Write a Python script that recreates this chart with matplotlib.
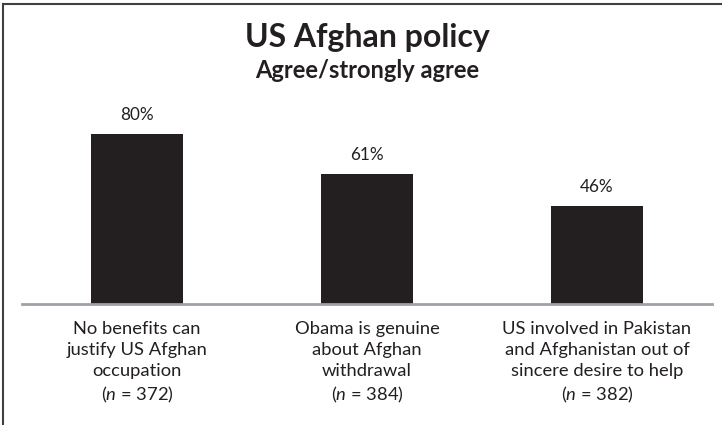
import matplotlib
matplotlib.use("Agg")
import matplotlib.pyplot as plt
from matplotlib.lines import Line2D

categories = [
    "No benefits can\njustify US Afghan\noccupation\n($\\mathit{n}$ = 372)",
    "Obama is genuine\nabout Afghan\nwithdrawal\n($\\mathit{n}$ = 384)",
    "US involved in Pakistan\nand Afghanistan out of\nsincere desire to help\n($\\mathit{n}$ = 382)",
]
values = [80, 61, 46]
value_labels = ["80%", "61%", "46%"]
title = "US Afghan policy"
subtitle = "Agree/strongly agree"

plt.rcParams['font.family'] = ['Lato', 'DejaVu Sans']
plt.rcParams['mathtext.fontset'] = 'custom'
plt.rcParams['mathtext.rm'] = 'Lato'
plt.rcParams['mathtext.it'] = 'Lato:italic'

W, H = 722, 425
fig = plt.figure(figsize=(W / 100, H / 100), dpi=100)

x0, x1 = 22, 712
y_base = 304
y_top = y_base - 212.5
ax = fig.add_axes([x0 / W, 1 - y_base / H, (x1 - x0) / W, (y_base - y_top) / H])

xs = list(range(len(values)))
ax.bar(xs, values, width=0.4, color="#231f20")
ax.set_xlim(-0.5, len(values) - 0.5)
ax.set_ylim(0, 100)
for x, v, lab in zip(xs, values, value_labels):
    ax.annotate(lab, (x, v), xytext=(0, 10), textcoords="offset points",
                ha="center", va="baseline", fontsize=12.3, color="#231f20")

for s in ["top", "right", "left"]:
    ax.spines[s].set_visible(False)
ax.spines["bottom"].set_color("#a0a0a8")
ax.spines["bottom"].set_linewidth(2)
ax.set_yticks([])
ax.set_xticks(xs)
ax.set_xticklabels(categories, fontsize=13.2, color="#231f20", linespacing=1.38)
ax.tick_params(axis="x", length=0, pad=12)

cx = (x0 + x1) / 2 / W
fig.text(cx, 1 - 47 / H, title, ha="center", va="baseline", fontsize=23,
         fontweight="bold", color="#231f20")
fig.text(cx, 1 - 78 / H, subtitle, ha="center", va="baseline", fontsize=17,
         fontweight="bold", color="#231f20")

# frame (top and left edges)
fig.add_artist(Line2D([3.5 / W, 1.0], [1 - 3.5 / H, 1 - 3.5 / H], color="#404040", lw=1.5,
                      transform=fig.transFigure))
fig.add_artist(Line2D([3.5 / W, 3.5 / W], [0, 1 - 3.5 / H], color="#404040", lw=1.5,
                      transform=fig.transFigure))

fig.savefig("out.png", dpi=100)
